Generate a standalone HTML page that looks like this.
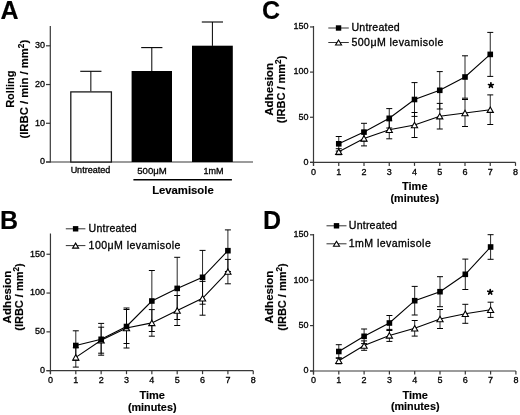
<!DOCTYPE html>
<html><head><meta charset="utf-8"><title>Figure</title>
<style>
html,body{margin:0;padding:0;background:#fff;width:520px;height:415px;overflow:hidden;}
svg{display:block;will-change:transform;}
text{font-family:"Liberation Sans",sans-serif;fill:#000;stroke:#000;stroke-width:0.3px;}
text[font-weight="bold"]{stroke-width:0.15px;}
</style></head><body>
<svg width="520" height="415" viewBox="0 0 520 415">
<rect width="520" height="415" fill="#fff"/>
<text x="0.50" y="19.40" font-size="25" text-anchor="start" font-weight="bold" >A</text>
<line x1="50.30" y1="26.00" x2="50.30" y2="162.60" stroke="#383838" stroke-width="1.2"/>
<line x1="46.00" y1="162.00" x2="253.00" y2="162.00" stroke="#383838" stroke-width="1.2"/>
<line x1="46.00" y1="162.00" x2="50.30" y2="162.00" stroke="#383838" stroke-width="1.2"/>
<text x="45.00" y="164.40" font-size="9" text-anchor="end" font-weight="normal" >0</text>
<line x1="46.00" y1="123.27" x2="50.30" y2="123.27" stroke="#383838" stroke-width="1.2"/>
<text x="45.00" y="125.67" font-size="9" text-anchor="end" font-weight="normal" >10</text>
<line x1="46.00" y1="84.53" x2="50.30" y2="84.53" stroke="#383838" stroke-width="1.2"/>
<text x="45.00" y="86.93" font-size="9" text-anchor="end" font-weight="normal" >20</text>
<line x1="46.00" y1="45.80" x2="50.30" y2="45.80" stroke="#383838" stroke-width="1.2"/>
<text x="45.00" y="48.20" font-size="9" text-anchor="end" font-weight="normal" >30</text>
<line x1="90.85" y1="71.30" x2="90.85" y2="91.40" stroke="#000" stroke-width="1.0"/>
<line x1="80.25" y1="71.30" x2="101.45" y2="71.30" stroke="#000" stroke-width="1.1"/>
<rect x="70.8" y="91.9" width="40.6" height="70.10" fill="#fff" stroke="#1a1a1a" stroke-width="1.3"/>
<line x1="151.80" y1="47.60" x2="151.80" y2="71.20" stroke="#000" stroke-width="1.0"/>
<line x1="141.20" y1="47.60" x2="162.40" y2="47.60" stroke="#000" stroke-width="1.1"/>
<rect x="131.60" y="71.00" width="40.40" height="91.00" fill="#000"/>
<line x1="212.40" y1="22.00" x2="212.40" y2="45.90" stroke="#000" stroke-width="1.0"/>
<line x1="201.80" y1="22.00" x2="223.00" y2="22.00" stroke="#000" stroke-width="1.1"/>
<rect x="192.00" y="45.70" width="40.80" height="116.30" fill="#000"/>
<text x="90.40" y="173.00" font-size="9" text-anchor="middle" font-weight="normal" >Untreated</text>
<text x="152.00" y="173.50" font-size="9.6" text-anchor="middle" font-weight="normal" >500&#956;M</text>
<text x="213.40" y="173.80" font-size="9" text-anchor="middle" font-weight="normal" >1mM</text>
<line x1="133.40" y1="179.70" x2="231.90" y2="179.70" stroke="#000" stroke-width="1.5"/>
<text x="182.90" y="193.80" font-size="11.3" text-anchor="middle" font-weight="bold" >Levamisole</text>
<text transform="translate(13.80,89.20) rotate(-90)" font-size="11" font-weight="bold" text-anchor="middle">Rolling</text>
<text transform="translate(27.80,89.20) rotate(-90)" font-size="11.3" font-weight="bold" text-anchor="middle">(IRBC / min / mm<tspan font-size="8.3" dy="-4.3">2</tspan><tspan dy="4.3">)</tspan></text>
<text x="262.00" y="19.20" font-size="25" text-anchor="start" font-weight="bold" >C</text>
<line x1="313.50" y1="26.00" x2="313.50" y2="165.90" stroke="#383838" stroke-width="1.2"/>
<line x1="310.00" y1="162.40" x2="515.50" y2="162.40" stroke="#383838" stroke-width="1.2"/>
<line x1="310.00" y1="162.40" x2="313.50" y2="162.40" stroke="#383838" stroke-width="1.2"/>
<text x="308.50" y="164.70" font-size="9" text-anchor="end" font-weight="normal" >0</text>
<line x1="310.00" y1="117.25" x2="313.50" y2="117.25" stroke="#383838" stroke-width="1.2"/>
<text x="308.50" y="119.55" font-size="9" text-anchor="end" font-weight="normal" >50</text>
<line x1="310.00" y1="72.10" x2="313.50" y2="72.10" stroke="#383838" stroke-width="1.2"/>
<text x="308.50" y="74.40" font-size="9" text-anchor="end" font-weight="normal" >100</text>
<line x1="310.00" y1="26.95" x2="313.50" y2="26.95" stroke="#383838" stroke-width="1.2"/>
<text x="308.50" y="29.25" font-size="9" text-anchor="end" font-weight="normal" >150</text>
<line x1="313.50" y1="162.40" x2="313.50" y2="165.90" stroke="#383838" stroke-width="1.2"/>
<text x="313.50" y="174.70" font-size="9" text-anchor="middle" font-weight="normal" >0</text>
<line x1="338.75" y1="162.40" x2="338.75" y2="165.90" stroke="#383838" stroke-width="1.2"/>
<text x="338.75" y="174.70" font-size="9" text-anchor="middle" font-weight="normal" >1</text>
<line x1="364.00" y1="162.40" x2="364.00" y2="165.90" stroke="#383838" stroke-width="1.2"/>
<text x="364.00" y="174.70" font-size="9" text-anchor="middle" font-weight="normal" >2</text>
<line x1="389.25" y1="162.40" x2="389.25" y2="165.90" stroke="#383838" stroke-width="1.2"/>
<text x="389.25" y="174.70" font-size="9" text-anchor="middle" font-weight="normal" >3</text>
<line x1="414.50" y1="162.40" x2="414.50" y2="165.90" stroke="#383838" stroke-width="1.2"/>
<text x="414.50" y="174.70" font-size="9" text-anchor="middle" font-weight="normal" >4</text>
<line x1="439.75" y1="162.40" x2="439.75" y2="165.90" stroke="#383838" stroke-width="1.2"/>
<text x="439.75" y="174.70" font-size="9" text-anchor="middle" font-weight="normal" >5</text>
<line x1="465.00" y1="162.40" x2="465.00" y2="165.90" stroke="#383838" stroke-width="1.2"/>
<text x="465.00" y="174.70" font-size="9" text-anchor="middle" font-weight="normal" >6</text>
<line x1="490.25" y1="162.40" x2="490.25" y2="165.90" stroke="#383838" stroke-width="1.2"/>
<text x="490.25" y="174.70" font-size="9" text-anchor="middle" font-weight="normal" >7</text>
<line x1="515.50" y1="162.40" x2="515.50" y2="165.90" stroke="#383838" stroke-width="1.2"/>
<text x="515.50" y="174.70" font-size="9" text-anchor="middle" font-weight="normal" >8</text>
<polyline fill="none" stroke="#000" stroke-width="1.1" points="338.75,143.80 364.00,132.10 389.25,118.30 414.50,99.50 439.75,90.30 465.00,77.00 490.25,54.40"/>
<polyline fill="none" stroke="#000" stroke-width="1.1" points="338.75,151.70 364.00,138.40 389.25,129.80 414.50,125.00 439.75,116.20 465.00,113.00 490.25,109.70"/>
<line x1="338.75" y1="136.50" x2="338.75" y2="151.10" stroke="#000" stroke-width="0.85"/>
<line x1="335.75" y1="136.50" x2="341.75" y2="136.50" stroke="#000" stroke-width="1.0"/>
<line x1="335.75" y1="151.10" x2="341.75" y2="151.10" stroke="#000" stroke-width="1.0"/>
<line x1="364.00" y1="123.30" x2="364.00" y2="140.90" stroke="#000" stroke-width="0.85"/>
<line x1="361.00" y1="123.30" x2="367.00" y2="123.30" stroke="#000" stroke-width="1.0"/>
<line x1="361.00" y1="140.90" x2="367.00" y2="140.90" stroke="#000" stroke-width="1.0"/>
<line x1="389.25" y1="108.60" x2="389.25" y2="128.00" stroke="#000" stroke-width="0.85"/>
<line x1="386.25" y1="108.60" x2="392.25" y2="108.60" stroke="#000" stroke-width="1.0"/>
<line x1="386.25" y1="128.00" x2="392.25" y2="128.00" stroke="#000" stroke-width="1.0"/>
<line x1="414.50" y1="82.60" x2="414.50" y2="116.40" stroke="#000" stroke-width="0.85"/>
<line x1="411.50" y1="82.60" x2="417.50" y2="82.60" stroke="#000" stroke-width="1.0"/>
<line x1="411.50" y1="116.40" x2="417.50" y2="116.40" stroke="#000" stroke-width="1.0"/>
<line x1="439.75" y1="71.60" x2="439.75" y2="109.00" stroke="#000" stroke-width="0.85"/>
<line x1="436.75" y1="71.60" x2="442.75" y2="71.60" stroke="#000" stroke-width="1.0"/>
<line x1="436.75" y1="109.00" x2="442.75" y2="109.00" stroke="#000" stroke-width="1.0"/>
<line x1="465.00" y1="55.80" x2="465.00" y2="98.20" stroke="#000" stroke-width="0.85"/>
<line x1="462.00" y1="55.80" x2="468.00" y2="55.80" stroke="#000" stroke-width="1.0"/>
<line x1="462.00" y1="98.20" x2="468.00" y2="98.20" stroke="#000" stroke-width="1.0"/>
<line x1="490.25" y1="32.40" x2="490.25" y2="76.40" stroke="#000" stroke-width="0.85"/>
<line x1="487.25" y1="32.40" x2="493.25" y2="32.40" stroke="#000" stroke-width="1.0"/>
<line x1="487.25" y1="76.40" x2="493.25" y2="76.40" stroke="#000" stroke-width="1.0"/>
<line x1="338.75" y1="148.70" x2="338.75" y2="154.70" stroke="#000" stroke-width="0.85"/>
<line x1="335.75" y1="148.70" x2="341.75" y2="148.70" stroke="#000" stroke-width="1.0"/>
<line x1="335.75" y1="154.70" x2="341.75" y2="154.70" stroke="#000" stroke-width="1.0"/>
<line x1="364.00" y1="130.90" x2="364.00" y2="145.90" stroke="#000" stroke-width="0.85"/>
<line x1="361.00" y1="130.90" x2="367.00" y2="130.90" stroke="#000" stroke-width="1.0"/>
<line x1="361.00" y1="145.90" x2="367.00" y2="145.90" stroke="#000" stroke-width="1.0"/>
<line x1="389.25" y1="120.80" x2="389.25" y2="138.80" stroke="#000" stroke-width="0.85"/>
<line x1="386.25" y1="120.80" x2="392.25" y2="120.80" stroke="#000" stroke-width="1.0"/>
<line x1="386.25" y1="138.80" x2="392.25" y2="138.80" stroke="#000" stroke-width="1.0"/>
<line x1="414.50" y1="112.50" x2="414.50" y2="137.50" stroke="#000" stroke-width="0.85"/>
<line x1="411.50" y1="112.50" x2="417.50" y2="112.50" stroke="#000" stroke-width="1.0"/>
<line x1="411.50" y1="137.50" x2="417.50" y2="137.50" stroke="#000" stroke-width="1.0"/>
<line x1="439.75" y1="103.40" x2="439.75" y2="129.00" stroke="#000" stroke-width="0.85"/>
<line x1="436.75" y1="103.40" x2="442.75" y2="103.40" stroke="#000" stroke-width="1.0"/>
<line x1="436.75" y1="129.00" x2="442.75" y2="129.00" stroke="#000" stroke-width="1.0"/>
<line x1="465.00" y1="99.50" x2="465.00" y2="126.50" stroke="#000" stroke-width="0.85"/>
<line x1="462.00" y1="99.50" x2="468.00" y2="99.50" stroke="#000" stroke-width="1.0"/>
<line x1="462.00" y1="126.50" x2="468.00" y2="126.50" stroke="#000" stroke-width="1.0"/>
<line x1="490.25" y1="94.90" x2="490.25" y2="124.50" stroke="#000" stroke-width="0.85"/>
<line x1="487.25" y1="94.90" x2="493.25" y2="94.90" stroke="#000" stroke-width="1.0"/>
<line x1="487.25" y1="124.50" x2="493.25" y2="124.50" stroke="#000" stroke-width="1.0"/>
<polygon points="338.75,149.00 341.85,154.40 335.65,154.40" fill="#fff" stroke="#000" stroke-width="1.1" stroke-linejoin="miter"/>
<polygon points="364.00,135.70 367.10,141.10 360.90,141.10" fill="#fff" stroke="#000" stroke-width="1.1" stroke-linejoin="miter"/>
<polygon points="389.25,127.10 392.35,132.50 386.15,132.50" fill="#fff" stroke="#000" stroke-width="1.1" stroke-linejoin="miter"/>
<polygon points="414.50,122.30 417.60,127.70 411.40,127.70" fill="#fff" stroke="#000" stroke-width="1.1" stroke-linejoin="miter"/>
<polygon points="439.75,113.50 442.85,118.90 436.65,118.90" fill="#fff" stroke="#000" stroke-width="1.1" stroke-linejoin="miter"/>
<polygon points="465.00,110.30 468.10,115.70 461.90,115.70" fill="#fff" stroke="#000" stroke-width="1.1" stroke-linejoin="miter"/>
<polygon points="490.25,107.00 493.35,112.40 487.15,112.40" fill="#fff" stroke="#000" stroke-width="1.1" stroke-linejoin="miter"/>
<rect x="335.95" y="141.00" width="5.6" height="5.6" fill="#000"/>
<rect x="361.20" y="129.30" width="5.6" height="5.6" fill="#000"/>
<rect x="386.45" y="115.50" width="5.6" height="5.6" fill="#000"/>
<rect x="411.70" y="96.70" width="5.6" height="5.6" fill="#000"/>
<rect x="436.95" y="87.50" width="5.6" height="5.6" fill="#000"/>
<rect x="462.20" y="74.20" width="5.6" height="5.6" fill="#000"/>
<rect x="487.45" y="51.60" width="5.6" height="5.6" fill="#000"/>
<path d="M490.90,85.30L490.90,82.80M490.90,85.30L493.28,84.53M490.90,85.30L492.37,87.32M490.90,85.30L489.43,87.32M490.90,85.30L488.52,84.53" stroke="#000" stroke-width="1.7" stroke-linecap="round" fill="none"/>
<circle cx="490.90" cy="85.30" r="1.3" fill="#000"/>
<line x1="328.30" y1="28.00" x2="348.80" y2="28.00" stroke="#333" stroke-width="1.0"/>
<rect x="335.85" y="25.30" width="5.4" height="5.4" fill="#000"/>
<line x1="328.30" y1="42.50" x2="348.80" y2="42.50" stroke="#333" stroke-width="1.0"/>
<polygon points="338.55,40.00 341.55,45.00 335.55,45.00" fill="#fff" stroke="#000" stroke-width="1.1" stroke-linejoin="miter"/>
<text x="351.50" y="31.30" font-size="10.6" text-anchor="start" font-weight="normal" letter-spacing="0.2">Untreated</text>
<text x="351.50" y="46.10" font-size="10.6" text-anchor="start" font-weight="normal" letter-spacing="0.42">500&#956;M levamisole</text>
<text transform="translate(273.00,89.40) rotate(-90)" font-size="11.6" font-weight="bold" text-anchor="middle">Adhesion</text>
<text transform="translate(285.30,89.40) rotate(-90)" font-size="11" font-weight="bold" text-anchor="middle">(IRBC / mm<tspan font-size="8.3" dy="-4.3">2</tspan><tspan dy="4.3">)</tspan></text>
<text x="414.80" y="190.30" font-size="11" text-anchor="middle" font-weight="bold" >Time</text>
<text x="414.80" y="202.10" font-size="10.8" text-anchor="middle" font-weight="bold" >(minutes)</text>
<text x="0.00" y="229.40" font-size="25" text-anchor="start" font-weight="bold" >B</text>
<line x1="50.45" y1="233.50" x2="50.45" y2="374.15" stroke="#383838" stroke-width="1.2"/>
<line x1="46.45" y1="370.65" x2="253.25" y2="370.65" stroke="#383838" stroke-width="1.2"/>
<line x1="46.45" y1="370.65" x2="50.45" y2="370.65" stroke="#383838" stroke-width="1.2"/>
<text x="44.95" y="372.95" font-size="9" text-anchor="end" font-weight="normal" >0</text>
<line x1="46.45" y1="331.85" x2="50.45" y2="331.85" stroke="#383838" stroke-width="1.2"/>
<text x="44.95" y="334.15" font-size="9" text-anchor="end" font-weight="normal" >50</text>
<line x1="46.45" y1="293.05" x2="50.45" y2="293.05" stroke="#383838" stroke-width="1.2"/>
<text x="44.95" y="295.35" font-size="9" text-anchor="end" font-weight="normal" >100</text>
<line x1="46.45" y1="254.25" x2="50.45" y2="254.25" stroke="#383838" stroke-width="1.2"/>
<text x="44.95" y="256.55" font-size="9" text-anchor="end" font-weight="normal" >150</text>
<line x1="50.45" y1="370.65" x2="50.45" y2="374.15" stroke="#383838" stroke-width="1.2"/>
<text x="50.45" y="382.95" font-size="9" text-anchor="middle" font-weight="normal" >0</text>
<line x1="75.80" y1="370.65" x2="75.80" y2="374.15" stroke="#383838" stroke-width="1.2"/>
<text x="75.80" y="382.95" font-size="9" text-anchor="middle" font-weight="normal" >1</text>
<line x1="101.15" y1="370.65" x2="101.15" y2="374.15" stroke="#383838" stroke-width="1.2"/>
<text x="101.15" y="382.95" font-size="9" text-anchor="middle" font-weight="normal" >2</text>
<line x1="126.50" y1="370.65" x2="126.50" y2="374.15" stroke="#383838" stroke-width="1.2"/>
<text x="126.50" y="382.95" font-size="9" text-anchor="middle" font-weight="normal" >3</text>
<line x1="151.85" y1="370.65" x2="151.85" y2="374.15" stroke="#383838" stroke-width="1.2"/>
<text x="151.85" y="382.95" font-size="9" text-anchor="middle" font-weight="normal" >4</text>
<line x1="177.20" y1="370.65" x2="177.20" y2="374.15" stroke="#383838" stroke-width="1.2"/>
<text x="177.20" y="382.95" font-size="9" text-anchor="middle" font-weight="normal" >5</text>
<line x1="202.55" y1="370.65" x2="202.55" y2="374.15" stroke="#383838" stroke-width="1.2"/>
<text x="202.55" y="382.95" font-size="9" text-anchor="middle" font-weight="normal" >6</text>
<line x1="227.90" y1="370.65" x2="227.90" y2="374.15" stroke="#383838" stroke-width="1.2"/>
<text x="227.90" y="382.95" font-size="9" text-anchor="middle" font-weight="normal" >7</text>
<line x1="253.25" y1="370.65" x2="253.25" y2="374.15" stroke="#383838" stroke-width="1.2"/>
<text x="253.25" y="382.95" font-size="9" text-anchor="middle" font-weight="normal" >8</text>
<polyline fill="none" stroke="#000" stroke-width="1.1" points="75.80,345.50 101.15,339.30 126.50,326.50 151.85,301.00 177.20,288.40 202.55,277.30 227.90,250.70"/>
<polyline fill="none" stroke="#000" stroke-width="1.1" points="75.80,357.40 101.15,340.20 126.50,328.00 151.85,322.90 177.20,310.50 202.55,298.30 227.90,271.60"/>
<line x1="75.80" y1="330.80" x2="75.80" y2="360.20" stroke="#000" stroke-width="0.85"/>
<line x1="72.80" y1="330.80" x2="78.80" y2="330.80" stroke="#000" stroke-width="1.0"/>
<line x1="72.80" y1="360.20" x2="78.80" y2="360.20" stroke="#000" stroke-width="1.0"/>
<line x1="101.15" y1="323.40" x2="101.15" y2="355.20" stroke="#000" stroke-width="0.85"/>
<line x1="98.15" y1="323.40" x2="104.15" y2="323.40" stroke="#000" stroke-width="1.0"/>
<line x1="98.15" y1="355.20" x2="104.15" y2="355.20" stroke="#000" stroke-width="1.0"/>
<line x1="126.50" y1="309.50" x2="126.50" y2="343.50" stroke="#000" stroke-width="0.85"/>
<line x1="123.50" y1="309.50" x2="129.50" y2="309.50" stroke="#000" stroke-width="1.0"/>
<line x1="123.50" y1="343.50" x2="129.50" y2="343.50" stroke="#000" stroke-width="1.0"/>
<line x1="151.85" y1="270.50" x2="151.85" y2="331.50" stroke="#000" stroke-width="0.85"/>
<line x1="148.85" y1="270.50" x2="154.85" y2="270.50" stroke="#000" stroke-width="1.0"/>
<line x1="148.85" y1="331.50" x2="154.85" y2="331.50" stroke="#000" stroke-width="1.0"/>
<line x1="177.20" y1="257.30" x2="177.20" y2="319.50" stroke="#000" stroke-width="0.85"/>
<line x1="174.20" y1="257.30" x2="180.20" y2="257.30" stroke="#000" stroke-width="1.0"/>
<line x1="174.20" y1="319.50" x2="180.20" y2="319.50" stroke="#000" stroke-width="1.0"/>
<line x1="202.55" y1="250.40" x2="202.55" y2="304.20" stroke="#000" stroke-width="0.85"/>
<line x1="199.55" y1="250.40" x2="205.55" y2="250.40" stroke="#000" stroke-width="1.0"/>
<line x1="199.55" y1="304.20" x2="205.55" y2="304.20" stroke="#000" stroke-width="1.0"/>
<line x1="227.90" y1="229.90" x2="227.90" y2="271.50" stroke="#000" stroke-width="0.85"/>
<line x1="224.90" y1="229.90" x2="230.90" y2="229.90" stroke="#000" stroke-width="1.0"/>
<line x1="224.90" y1="271.50" x2="230.90" y2="271.50" stroke="#000" stroke-width="1.0"/>
<line x1="75.80" y1="347.70" x2="75.80" y2="367.10" stroke="#000" stroke-width="0.85"/>
<line x1="72.80" y1="347.70" x2="78.80" y2="347.70" stroke="#000" stroke-width="1.0"/>
<line x1="72.80" y1="367.10" x2="78.80" y2="367.10" stroke="#000" stroke-width="1.0"/>
<line x1="101.15" y1="327.20" x2="101.15" y2="353.20" stroke="#000" stroke-width="0.85"/>
<line x1="98.15" y1="327.20" x2="104.15" y2="327.20" stroke="#000" stroke-width="1.0"/>
<line x1="98.15" y1="353.20" x2="104.15" y2="353.20" stroke="#000" stroke-width="1.0"/>
<line x1="126.50" y1="308.00" x2="126.50" y2="348.00" stroke="#000" stroke-width="0.85"/>
<line x1="123.50" y1="308.00" x2="129.50" y2="308.00" stroke="#000" stroke-width="1.0"/>
<line x1="123.50" y1="348.00" x2="129.50" y2="348.00" stroke="#000" stroke-width="1.0"/>
<line x1="151.85" y1="309.60" x2="151.85" y2="336.20" stroke="#000" stroke-width="0.85"/>
<line x1="148.85" y1="309.60" x2="154.85" y2="309.60" stroke="#000" stroke-width="1.0"/>
<line x1="148.85" y1="336.20" x2="154.85" y2="336.20" stroke="#000" stroke-width="1.0"/>
<line x1="177.20" y1="295.50" x2="177.20" y2="325.50" stroke="#000" stroke-width="0.85"/>
<line x1="174.20" y1="295.50" x2="180.20" y2="295.50" stroke="#000" stroke-width="1.0"/>
<line x1="174.20" y1="325.50" x2="180.20" y2="325.50" stroke="#000" stroke-width="1.0"/>
<line x1="202.55" y1="281.40" x2="202.55" y2="315.20" stroke="#000" stroke-width="0.85"/>
<line x1="199.55" y1="281.40" x2="205.55" y2="281.40" stroke="#000" stroke-width="1.0"/>
<line x1="199.55" y1="315.20" x2="205.55" y2="315.20" stroke="#000" stroke-width="1.0"/>
<line x1="227.90" y1="259.40" x2="227.90" y2="283.80" stroke="#000" stroke-width="0.85"/>
<line x1="224.90" y1="259.40" x2="230.90" y2="259.40" stroke="#000" stroke-width="1.0"/>
<line x1="224.90" y1="283.80" x2="230.90" y2="283.80" stroke="#000" stroke-width="1.0"/>
<polygon points="75.80,354.70 78.90,360.10 72.70,360.10" fill="#fff" stroke="#000" stroke-width="1.1" stroke-linejoin="miter"/>
<polygon points="101.15,337.50 104.25,342.90 98.05,342.90" fill="#fff" stroke="#000" stroke-width="1.1" stroke-linejoin="miter"/>
<polygon points="126.50,325.30 129.60,330.70 123.40,330.70" fill="#fff" stroke="#000" stroke-width="1.1" stroke-linejoin="miter"/>
<polygon points="151.85,320.20 154.95,325.60 148.75,325.60" fill="#fff" stroke="#000" stroke-width="1.1" stroke-linejoin="miter"/>
<polygon points="177.20,307.80 180.30,313.20 174.10,313.20" fill="#fff" stroke="#000" stroke-width="1.1" stroke-linejoin="miter"/>
<polygon points="202.55,295.60 205.65,301.00 199.45,301.00" fill="#fff" stroke="#000" stroke-width="1.1" stroke-linejoin="miter"/>
<polygon points="227.90,268.90 231.00,274.30 224.80,274.30" fill="#fff" stroke="#000" stroke-width="1.1" stroke-linejoin="miter"/>
<rect x="73.00" y="342.70" width="5.6" height="5.6" fill="#000"/>
<rect x="98.35" y="336.50" width="5.6" height="5.6" fill="#000"/>
<rect x="123.70" y="323.70" width="5.6" height="5.6" fill="#000"/>
<rect x="149.05" y="298.20" width="5.6" height="5.6" fill="#000"/>
<rect x="174.40" y="285.60" width="5.6" height="5.6" fill="#000"/>
<rect x="199.75" y="274.50" width="5.6" height="5.6" fill="#000"/>
<rect x="225.10" y="247.90" width="5.6" height="5.6" fill="#000"/>
<line x1="65.80" y1="228.80" x2="85.40" y2="228.80" stroke="#333" stroke-width="1.0"/>
<rect x="72.90" y="226.10" width="5.4" height="5.4" fill="#000"/>
<line x1="65.80" y1="245.60" x2="85.40" y2="245.60" stroke="#333" stroke-width="1.0"/>
<polygon points="75.60,243.10 78.60,248.10 72.60,248.10" fill="#fff" stroke="#000" stroke-width="1.1" stroke-linejoin="miter"/>
<text x="88.60" y="232.10" font-size="10.6" text-anchor="start" font-weight="normal" letter-spacing="0.2">Untreated</text>
<text x="88.60" y="249.20" font-size="10.6" text-anchor="start" font-weight="normal" letter-spacing="0.42">100&#956;M levamisole</text>
<text transform="translate(10.50,297.00) rotate(-90)" font-size="11.6" font-weight="bold" text-anchor="middle">Adhesion</text>
<text transform="translate(22.80,297.00) rotate(-90)" font-size="11" font-weight="bold" text-anchor="middle">(IRBC / mm<tspan font-size="8.3" dy="-4.3">2</tspan><tspan dy="4.3">)</tspan></text>
<text x="152.20" y="399.00" font-size="11" text-anchor="middle" font-weight="bold" >Time</text>
<text x="152.20" y="410.60" font-size="10.8" text-anchor="middle" font-weight="bold" >(minutes)</text>
<text x="263.00" y="229.20" font-size="25" text-anchor="start" font-weight="bold" >D</text>
<line x1="313.50" y1="234.00" x2="313.50" y2="374.50" stroke="#383838" stroke-width="1.2"/>
<line x1="310.00" y1="371.00" x2="515.90" y2="371.00" stroke="#383838" stroke-width="1.2"/>
<line x1="310.00" y1="371.00" x2="313.50" y2="371.00" stroke="#383838" stroke-width="1.2"/>
<text x="308.50" y="373.30" font-size="9" text-anchor="end" font-weight="normal" >0</text>
<line x1="310.00" y1="325.60" x2="313.50" y2="325.60" stroke="#383838" stroke-width="1.2"/>
<text x="308.50" y="327.90" font-size="9" text-anchor="end" font-weight="normal" >50</text>
<line x1="310.00" y1="280.20" x2="313.50" y2="280.20" stroke="#383838" stroke-width="1.2"/>
<text x="308.50" y="282.50" font-size="9" text-anchor="end" font-weight="normal" >100</text>
<line x1="310.00" y1="234.80" x2="313.50" y2="234.80" stroke="#383838" stroke-width="1.2"/>
<text x="308.50" y="237.10" font-size="9" text-anchor="end" font-weight="normal" >150</text>
<line x1="313.50" y1="371.00" x2="313.50" y2="374.50" stroke="#383838" stroke-width="1.2"/>
<text x="313.50" y="383.30" font-size="9" text-anchor="middle" font-weight="normal" >0</text>
<line x1="338.80" y1="371.00" x2="338.80" y2="374.50" stroke="#383838" stroke-width="1.2"/>
<text x="338.80" y="383.30" font-size="9" text-anchor="middle" font-weight="normal" >1</text>
<line x1="364.10" y1="371.00" x2="364.10" y2="374.50" stroke="#383838" stroke-width="1.2"/>
<text x="364.10" y="383.30" font-size="9" text-anchor="middle" font-weight="normal" >2</text>
<line x1="389.40" y1="371.00" x2="389.40" y2="374.50" stroke="#383838" stroke-width="1.2"/>
<text x="389.40" y="383.30" font-size="9" text-anchor="middle" font-weight="normal" >3</text>
<line x1="414.70" y1="371.00" x2="414.70" y2="374.50" stroke="#383838" stroke-width="1.2"/>
<text x="414.70" y="383.30" font-size="9" text-anchor="middle" font-weight="normal" >4</text>
<line x1="440.00" y1="371.00" x2="440.00" y2="374.50" stroke="#383838" stroke-width="1.2"/>
<text x="440.00" y="383.30" font-size="9" text-anchor="middle" font-weight="normal" >5</text>
<line x1="465.30" y1="371.00" x2="465.30" y2="374.50" stroke="#383838" stroke-width="1.2"/>
<text x="465.30" y="383.30" font-size="9" text-anchor="middle" font-weight="normal" >6</text>
<line x1="490.60" y1="371.00" x2="490.60" y2="374.50" stroke="#383838" stroke-width="1.2"/>
<text x="490.60" y="383.30" font-size="9" text-anchor="middle" font-weight="normal" >7</text>
<line x1="515.90" y1="371.00" x2="515.90" y2="374.50" stroke="#383838" stroke-width="1.2"/>
<text x="515.90" y="383.30" font-size="9" text-anchor="middle" font-weight="normal" >8</text>
<polyline fill="none" stroke="#000" stroke-width="1.1" points="338.80,351.50 364.10,336.30 389.40,323.00 414.70,300.70 440.00,291.70 465.30,274.30 490.60,247.00"/>
<polyline fill="none" stroke="#000" stroke-width="1.1" points="338.80,360.80 364.10,345.60 389.40,335.40 414.70,328.30 440.00,319.00 465.30,313.80 490.60,309.80"/>
<line x1="338.80" y1="344.70" x2="338.80" y2="358.30" stroke="#000" stroke-width="0.85"/>
<line x1="335.80" y1="344.70" x2="341.80" y2="344.70" stroke="#000" stroke-width="1.0"/>
<line x1="335.80" y1="358.30" x2="341.80" y2="358.30" stroke="#000" stroke-width="1.0"/>
<line x1="364.10" y1="329.00" x2="364.10" y2="343.60" stroke="#000" stroke-width="0.85"/>
<line x1="361.10" y1="329.00" x2="367.10" y2="329.00" stroke="#000" stroke-width="1.0"/>
<line x1="361.10" y1="343.60" x2="367.10" y2="343.60" stroke="#000" stroke-width="1.0"/>
<line x1="389.40" y1="315.50" x2="389.40" y2="330.50" stroke="#000" stroke-width="0.85"/>
<line x1="386.40" y1="315.50" x2="392.40" y2="315.50" stroke="#000" stroke-width="1.0"/>
<line x1="386.40" y1="330.50" x2="392.40" y2="330.50" stroke="#000" stroke-width="1.0"/>
<line x1="414.70" y1="286.40" x2="414.70" y2="315.00" stroke="#000" stroke-width="0.85"/>
<line x1="411.70" y1="286.40" x2="417.70" y2="286.40" stroke="#000" stroke-width="1.0"/>
<line x1="411.70" y1="315.00" x2="417.70" y2="315.00" stroke="#000" stroke-width="1.0"/>
<line x1="440.00" y1="276.70" x2="440.00" y2="306.70" stroke="#000" stroke-width="0.85"/>
<line x1="437.00" y1="276.70" x2="443.00" y2="276.70" stroke="#000" stroke-width="1.0"/>
<line x1="437.00" y1="306.70" x2="443.00" y2="306.70" stroke="#000" stroke-width="1.0"/>
<line x1="465.30" y1="259.10" x2="465.30" y2="289.50" stroke="#000" stroke-width="0.85"/>
<line x1="462.30" y1="259.10" x2="468.30" y2="259.10" stroke="#000" stroke-width="1.0"/>
<line x1="462.30" y1="289.50" x2="468.30" y2="289.50" stroke="#000" stroke-width="1.0"/>
<line x1="490.60" y1="234.70" x2="490.60" y2="259.30" stroke="#000" stroke-width="0.85"/>
<line x1="487.60" y1="234.70" x2="493.60" y2="234.70" stroke="#000" stroke-width="1.0"/>
<line x1="487.60" y1="259.30" x2="493.60" y2="259.30" stroke="#000" stroke-width="1.0"/>
<line x1="338.80" y1="357.80" x2="338.80" y2="363.80" stroke="#000" stroke-width="0.85"/>
<line x1="335.80" y1="357.80" x2="341.80" y2="357.80" stroke="#000" stroke-width="1.0"/>
<line x1="335.80" y1="363.80" x2="341.80" y2="363.80" stroke="#000" stroke-width="1.0"/>
<line x1="364.10" y1="340.90" x2="364.10" y2="350.30" stroke="#000" stroke-width="0.85"/>
<line x1="361.10" y1="340.90" x2="367.10" y2="340.90" stroke="#000" stroke-width="1.0"/>
<line x1="361.10" y1="350.30" x2="367.10" y2="350.30" stroke="#000" stroke-width="1.0"/>
<line x1="389.40" y1="329.40" x2="389.40" y2="341.40" stroke="#000" stroke-width="0.85"/>
<line x1="386.40" y1="329.40" x2="392.40" y2="329.40" stroke="#000" stroke-width="1.0"/>
<line x1="386.40" y1="341.40" x2="392.40" y2="341.40" stroke="#000" stroke-width="1.0"/>
<line x1="414.70" y1="320.50" x2="414.70" y2="336.10" stroke="#000" stroke-width="0.85"/>
<line x1="411.70" y1="320.50" x2="417.70" y2="320.50" stroke="#000" stroke-width="1.0"/>
<line x1="411.70" y1="336.10" x2="417.70" y2="336.10" stroke="#000" stroke-width="1.0"/>
<line x1="440.00" y1="309.50" x2="440.00" y2="328.50" stroke="#000" stroke-width="0.85"/>
<line x1="437.00" y1="309.50" x2="443.00" y2="309.50" stroke="#000" stroke-width="1.0"/>
<line x1="437.00" y1="328.50" x2="443.00" y2="328.50" stroke="#000" stroke-width="1.0"/>
<line x1="465.30" y1="304.30" x2="465.30" y2="323.30" stroke="#000" stroke-width="0.85"/>
<line x1="462.30" y1="304.30" x2="468.30" y2="304.30" stroke="#000" stroke-width="1.0"/>
<line x1="462.30" y1="323.30" x2="468.30" y2="323.30" stroke="#000" stroke-width="1.0"/>
<line x1="490.60" y1="302.20" x2="490.60" y2="317.40" stroke="#000" stroke-width="0.85"/>
<line x1="487.60" y1="302.20" x2="493.60" y2="302.20" stroke="#000" stroke-width="1.0"/>
<line x1="487.60" y1="317.40" x2="493.60" y2="317.40" stroke="#000" stroke-width="1.0"/>
<polygon points="338.80,358.10 341.90,363.50 335.70,363.50" fill="#fff" stroke="#000" stroke-width="1.1" stroke-linejoin="miter"/>
<polygon points="364.10,342.90 367.20,348.30 361.00,348.30" fill="#fff" stroke="#000" stroke-width="1.1" stroke-linejoin="miter"/>
<polygon points="389.40,332.70 392.50,338.10 386.30,338.10" fill="#fff" stroke="#000" stroke-width="1.1" stroke-linejoin="miter"/>
<polygon points="414.70,325.60 417.80,331.00 411.60,331.00" fill="#fff" stroke="#000" stroke-width="1.1" stroke-linejoin="miter"/>
<polygon points="440.00,316.30 443.10,321.70 436.90,321.70" fill="#fff" stroke="#000" stroke-width="1.1" stroke-linejoin="miter"/>
<polygon points="465.30,311.10 468.40,316.50 462.20,316.50" fill="#fff" stroke="#000" stroke-width="1.1" stroke-linejoin="miter"/>
<polygon points="490.60,307.10 493.70,312.50 487.50,312.50" fill="#fff" stroke="#000" stroke-width="1.1" stroke-linejoin="miter"/>
<rect x="336.00" y="348.70" width="5.6" height="5.6" fill="#000"/>
<rect x="361.30" y="333.50" width="5.6" height="5.6" fill="#000"/>
<rect x="386.60" y="320.20" width="5.6" height="5.6" fill="#000"/>
<rect x="411.90" y="297.90" width="5.6" height="5.6" fill="#000"/>
<rect x="437.20" y="288.90" width="5.6" height="5.6" fill="#000"/>
<rect x="462.50" y="271.50" width="5.6" height="5.6" fill="#000"/>
<rect x="487.80" y="244.20" width="5.6" height="5.6" fill="#000"/>
<path d="M490.20,292.00L490.20,289.50M490.20,292.00L492.58,291.23M490.20,292.00L491.67,294.02M490.20,292.00L488.73,294.02M490.20,292.00L487.82,291.23" stroke="#000" stroke-width="1.7" stroke-linecap="round" fill="none"/>
<circle cx="490.20" cy="292.00" r="1.3" fill="#000"/>
<line x1="326.50" y1="225.80" x2="346.50" y2="225.80" stroke="#333" stroke-width="1.0"/>
<rect x="333.80" y="223.10" width="5.4" height="5.4" fill="#000"/>
<line x1="326.50" y1="243.80" x2="346.50" y2="243.80" stroke="#333" stroke-width="1.0"/>
<polygon points="336.50,241.30 339.50,246.30 333.50,246.30" fill="#fff" stroke="#000" stroke-width="1.1" stroke-linejoin="miter"/>
<text x="348.80" y="229.10" font-size="10.6" text-anchor="start" font-weight="normal" letter-spacing="0.2">Untreated</text>
<text x="348.80" y="247.40" font-size="10.6" text-anchor="start" font-weight="normal" letter-spacing="0.42">1mM levamisole</text>
<text transform="translate(273.30,297.00) rotate(-90)" font-size="11.6" font-weight="bold" text-anchor="middle">Adhesion</text>
<text transform="translate(285.80,297.00) rotate(-90)" font-size="11" font-weight="bold" text-anchor="middle">(IRBC / mm<tspan font-size="8.3" dy="-4.3">2</tspan><tspan dy="4.3">)</tspan></text>
<text x="415.20" y="399.00" font-size="11" text-anchor="middle" font-weight="bold" >Time</text>
<text x="415.20" y="410.20" font-size="10.8" text-anchor="middle" font-weight="bold" >(minutes)</text>
</svg>
</body></html>
